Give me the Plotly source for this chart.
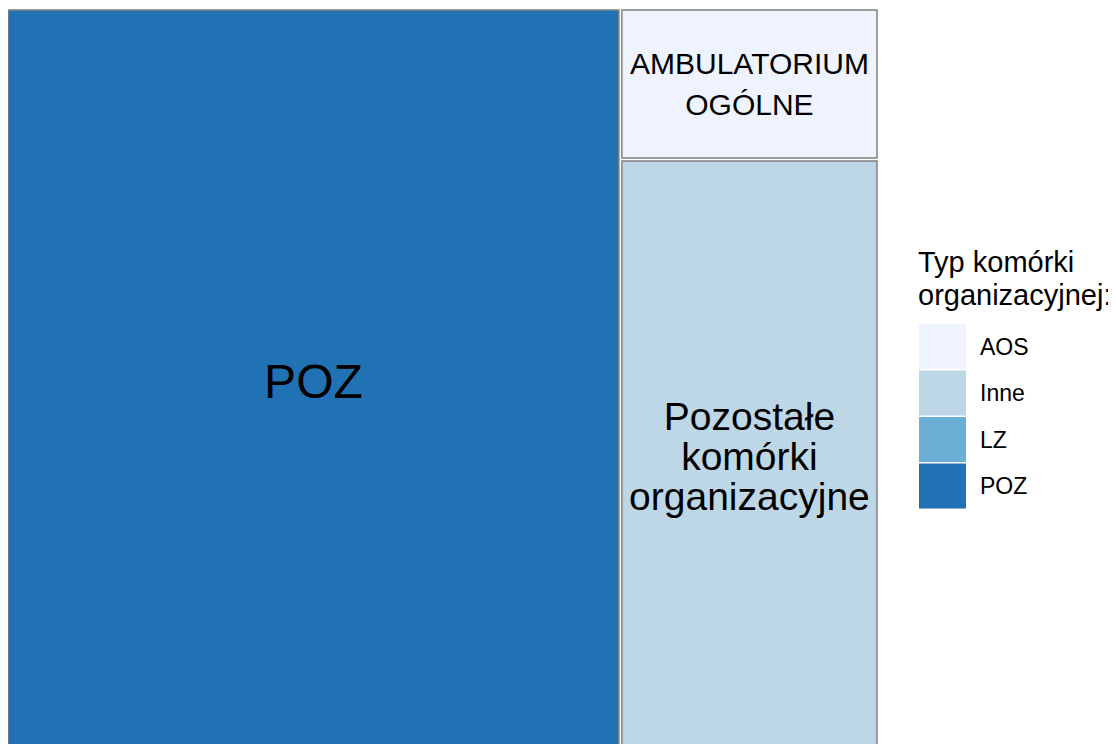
import plotly.graph_objects as go

# Data
labels = ["POZ", "AMBULATORIUM<br>OGÓLNE", "Pozostałe<br>komórki<br>organizacyjne"]
types = ["POZ", "AOS", "Inne"]
values = [70.4, 6.0, 23.6]
label_sizes = [48, 30, 39]

legend_title_lines = ["Typ komórki", "organizacyjnej:"]
legend_cats = ["AOS", "Inne", "LZ", "POZ"]
palette = {"AOS": "#eff3ff", "Inne": "#bdd7e7", "LZ": "#6baed6", "POZ": "#2171b5"}

W, H = 1116, 744
OFF = 8  # page body margin
FONT = "Liberation Sans"

tile_text = [f"<span style='font-size:{s}px'>{l}</span>" for l, s in zip(labels, label_sizes)]

fig = go.Figure(go.Treemap(
    labels=labels,
    parents=[""] * len(labels),
    values=values,
    sort=False,
    text=tile_text,
    textinfo="text",
    textposition="middle center",
    textfont=dict(family=FONT, size=31, color="#000000"),
    marker=dict(colors=[palette[t] for t in types],
                line=dict(color="#808080", width=1.5),
                pad=dict(t=0, l=0, r=0, b=0)),
    pathbar=dict(visible=False),
    domain=dict(x=[0, (877 - OFF) / W], y=[0, 1 - (10 - OFF) / H]),
))

shapes = []
annotations = []
for j, (line, yc) in enumerate(zip(legend_title_lines, [262, 295])):
    annotations.append(dict(
        x=(916 - OFF) / W, y=1 - (yc - OFF) / H, xref="paper", yref="paper",
        xanchor="left", yanchor="middle", align="left", showarrow=False,
        text=line, font=dict(family=FONT, size=29, color="#000000"),
    ))
key_top, key_h, key_gap = 324, 45, 1.5
for i, cat in enumerate(legend_cats):
    y0 = key_top + i * (key_h + key_gap) - OFF
    shapes.append(dict(
        type="rect", xref="paper", yref="paper",
        x0=(919 - OFF) / W, x1=(966 - OFF) / W, y0=1 - y0 / H, y1=1 - (y0 + key_h) / H,
        fillcolor=palette[cat], line=dict(width=0),
    ))
    annotations.append(dict(
        x=(978 - OFF) / W, y=1 - (y0 + key_h / 2) / H, xref="paper", yref="paper",
        xanchor="left", yanchor="middle", showarrow=False,
        text=cat, font=dict(family=FONT, size=23, color="#000000"),
    ))

fig.update_layout(
    width=W, height=H,
    margin=dict(l=0, r=0, t=0, b=0),
    paper_bgcolor="#ffffff",
    shapes=shapes,
    annotations=annotations,
)

fig.write_html("out.html")
